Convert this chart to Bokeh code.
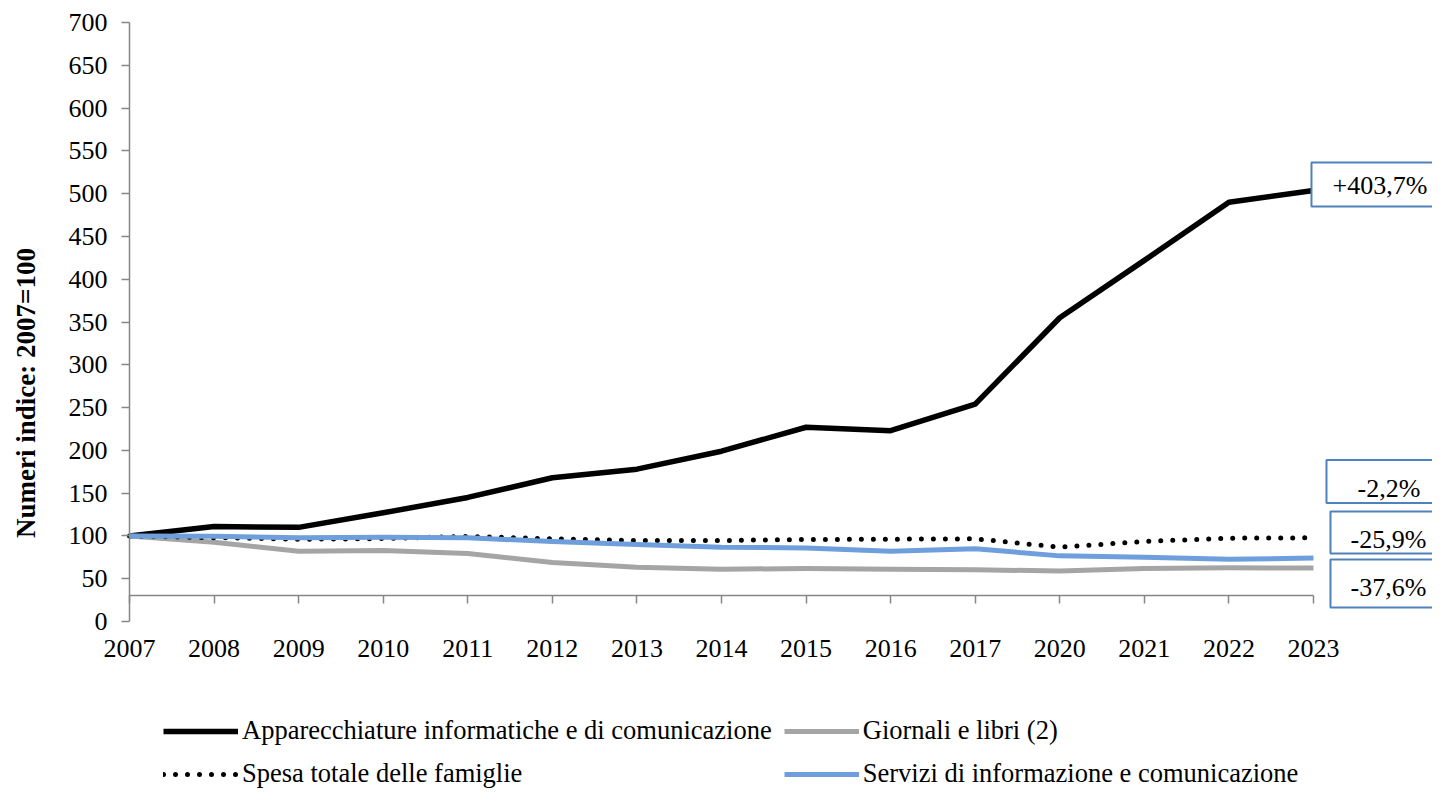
import math
from bokeh.plotting import figure
from bokeh.models import Range1d, FixedTicker, Legend, LegendItem, Label
from bokeh.embed import file_html
from bokeh.resources import INLINE

# ---------------- data ----------------
years = ["2007", "2008", "2009", "2010", "2011", "2012", "2013", "2014",
         "2015", "2016", "2017", "2020", "2021", "2022", "2023"]
apparecchiature = [100, 111, 110, 127, 145, 168, 178, 199, 227, 223, 254, 355, 422, 490, 503.7]
giornali = [100, 92.5, 82, 83, 79.5, 69, 63.5, 61, 62, 61, 60.5, 59, 62, 62.7, 62.4]
spesa = [100, 98, 96, 97, 99.5, 96.6, 94.7, 94.7, 95.8, 96.2, 96.6, 86.9, 93.5, 97.4, 97.8]
servizi = [100, 99.5, 98, 98.5, 97.8, 93.5, 90, 86.8, 86, 82, 85, 76.7, 75, 72.8, 74.1]
y_ticks = list(range(0, 701, 50))

names = ["Apparecchiature informatiche e di comunicazione", "Giornali e libri (2)",
         "Spesa totale delle famiglie", "Servizi di informazione e comunicazione"]

# ---------------- style / layout ----------------
FONT = "Liberation Serif"
FS = "26px"
AXIS_GRAY = "#868686"
BLUE = "#6E9FDC"
BOX_BLUE = "#4F81BD"

W, H = 1432, 789
X0_PX, Y0_PX, Y700_PX = 129, 621, 22   # pixel position of first category / value 0 / value 700
UNIT_X = 84.57                          # px per category step
UNIT_Y = (Y0_PX - Y700_PX) / 700.0      # px per index point

x = list(range(len(years)))
n = len(years) - 1

p = figure(width=W, height=H, output_backend="svg", toolbar_location=None,
           x_range=Range1d(-X0_PX / UNIT_X, (W - X0_PX) / UNIT_X),
           y_range=Range1d(-(H - Y0_PX) / UNIT_Y, Y0_PX / UNIT_Y),
           min_border_left=0, min_border_right=0, min_border_top=0, min_border_bottom=0)
p.outline_line_color = None
p.xgrid.grid_line_color = None
p.ygrid.grid_line_color = None

# value axis
ya = p.yaxis[0]
ya.fixed_location = 0
ya.bounds = (0, 700)
ya.ticker = FixedTicker(ticks=y_ticks)
ya.axis_line_color = AXIS_GRAY
ya.axis_line_width = 1.5
ya.major_tick_line_color = AXIS_GRAY
ya.major_tick_line_width = 1.5
ya.major_tick_out = 8
ya.major_tick_in = 0
ya.minor_tick_line_color = None
ya.major_label_text_font = FONT
ya.major_label_text_font_size = FS
ya.major_label_text_color = "black"
ya.major_label_standoff = 14

# category axis: line crosses the value axis at 30, labels lower down
xa = p.xaxis[0]
xa.fixed_location = 30
xa.bounds = (0, n)
xa.ticker = FixedTicker(ticks=x)
xa.major_label_overrides = {i: y for i, y in enumerate(years)}
xa.axis_line_color = AXIS_GRAY
xa.axis_line_width = 1.5
xa.major_tick_line_color = AXIS_GRAY
xa.major_tick_line_width = 1.5
xa.major_tick_out = 8
xa.major_tick_in = 0
xa.minor_tick_line_color = None
xa.major_label_text_font = FONT
xa.major_label_text_font_size = FS
xa.major_label_text_color = "black"
xa.major_label_standoff = 36

# series
r_app = p.line(x, apparecchiature, line_color="black", line_width=5.5, line_join="round")
r_gio = p.line(x, giornali, line_color="#A5A5A5", line_width=5, line_join="round")
r_spe = p.line(x, spesa, line_color="black", line_width=5, line_dash="0 12", line_cap="round")
r_ser = p.line(x, servizi, line_color=BLUE, line_width=5, line_join="round")

legend = Legend(items=[LegendItem(label=names[0], renderers=[r_app]),
                       LegendItem(label=names[1], renderers=[r_gio]),
                       LegendItem(label=names[2], renderers=[r_spe]),
                       LegendItem(label=names[3], renderers=[r_ser])],
                orientation="horizontal", ncols=2, location=(163, 0))
legend.label_text_font = FONT
legend.label_text_font_size = "26.5px"
legend.label_text_color = "black"
legend.glyph_width = 75
legend.glyph_height = 26
legend.label_height = 26
legend.label_standoff = 4
legend.spacing = 12
legend.padding = 0
legend.margin = 0
legend.border_line_color = None
legend.background_fill_alpha = 0
p.add_layout(legend, "center")

# value-axis title
p.add_layout(Label(x=0, y=267, x_offset=-104, text="Numeri indice: 2007=100", angle=math.pi / 2,
                   text_align="center", text_baseline="middle", text_font=FONT,
                   text_font_size="27px", text_font_style="bold", text_color="black"))

# end-of-period change boxes
def pct(v):
    return ("%+.1f%%" % (v - 100)).replace(".", ",")

finals = [apparecchiature[-1], spesa[-1], servizi[-1], giornali[-1]]
box_y = [510.7, 163.6, 104, 44.4]
box_dx = [-2, 13, 17, 17]
box_pad = [dict(left=21, right=100, top=9, bottom=6),
           dict(left=31, right=100, top=14, bottom=0),
           dict(left=20, right=100, top=13, bottom=0),
           dict(left=20, right=100, top=13, bottom=6)]
for v, yy, dx, pad in zip(finals, box_y, box_dx, box_pad):
    p.add_layout(Label(x=n, y=yy, x_offset=dx, text=pct(v),
                       text_align="left", text_baseline="middle", text_font=FONT,
                       text_font_size=FS, text_color="black",
                       border_line_color=BOX_BLUE, border_line_width=2,
                       background_fill_color="white", padding=pad))

open("out.html", "w").write(file_html(p, INLINE))
